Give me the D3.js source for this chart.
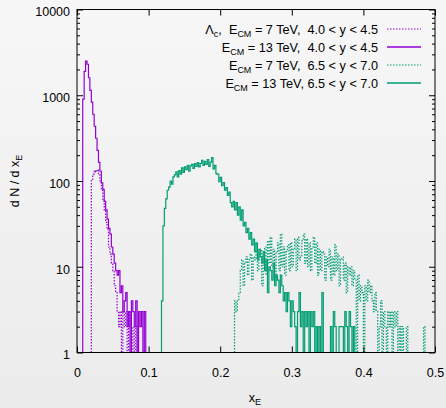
<!DOCTYPE html>
<html>
<head>
<meta charset="utf-8">
<script src="https://cdn.jsdelivr.net/npm/d3@7"></script>
<style>
  body { margin: 0; }
  svg { display: block; font-family: "Liberation Sans", Arial, sans-serif; }
</style>
</head>
<body>
<div id="chart"></div>
<script>
// histogram bin width in x_E
var binWidth = 0.002;

// Lambda_c, E_CM = 7 TeV, 4.0 < y < 4.5 (first bin starts at 0.020)
var e7LowStart = 0.020;
var e7Low = [105, 120, 132, 128, 135, 118, 100, 78, 60, 45, 33, 27, 17, 14, 11, 9, 6, 5, 3, 2,
  3, 1, 3, 2, 3, 1, 2, 3, 1, 2, 1, 2, 1, 0];

// E_CM = 13 TeV, 4.0 < y < 4.5 (first bin starts at 0.008)
var e13LowStart = 0.008;
var e13Low = [900, 1900, 2500, 2300, 1600, 1140, 830, 600, 435, 315, 228, 165, 130, 95, 80, 58, 46, 36, 28, 24,
  17, 14, 11, 9, 8, 9, 5, 6, 3, 4, 5, 2, 3, 1, 4, 3, 2, 4, 1, 3,
  2, 3, 1, 3, 0];

// E_CM = 7 TeV, 6.5 < y < 7.0 (first bin starts at 0.220)
var e7HighStart = 0.220;
var e7High = [4, 3, 4, 5, 9, 12, 6, 11, 13, 8, 12, 14, 7, 13, 12, 15, 9, 14, 16, 6,
  14, 17, 8, 20, 11, 22, 10, 16, 7, 15, 19, 9, 24, 10, 17, 8, 15, 18, 9, 19,
  10, 16, 21, 9, 22, 12, 13, 20, 24, 11, 21, 10, 19, 9, 17, 22, 11, 19, 8, 16,
  9, 15, 14, 7, 13, 10, 16, 7, 13, 8, 18, 9, 14, 6, 12, 13, 7, 11, 5, 10,
  8, 10, 6, 9, 7, 0, 8, 4, 6, 5, 0, 6, 4, 7, 5, 6, 4, 3, 5, 3,
  0, 2, 4, 1, 3, 2, 0, 3, 2, 3, 0, 3, 2, 3, 0, 2, 0, 2, 0, 0,
  2, 0, 0, 0, 0, 0, 0, 0, 0, 0, 0, 0, 2, 0];

// E_CM = 13 TeV, 6.5 < y < 7.0 (first bin starts at 0.118)
var e13HighStart = 0.118;
var e13High = [4, 30, 48, 62, 78, 85, 100, 92, 112, 118, 128, 112, 132, 120, 142, 126, 146, 136, 152, 130,
  150, 156, 140, 160, 148, 164, 146, 160, 174, 152, 170, 156, 178, 148, 166, 188, 138, 152, 122, 120,
  98, 110, 88, 96, 78, 84, 68, 74, 56, 50, 58, 46, 56, 40, 50, 35, 46, 30, 33, 25,
  28, 21, 25, 18, 21, 15, 19, 12, 16, 13, 11, 15, 9, 12, 5, 10, 9, 7, 11, 6,
  8, 7, 5, 8, 6, 4, 5, 3, 5, 4, 2, 4, 3, 2, 1, 3, 5, 2, 3, 1,
  3, 2, 3, 1, 3, 2, 3, 1, 2, 0, 2, 1, 5, 0, 1, 0, 0, 0, 2, 0,
  3, 2, 0, 0, 2, 2, 2, 0, 3, 2, 0, 3, 2, 0, 2, 0];

// axis ticks
var xTicks = [0, 0.1, 0.2, 0.3, 0.4, 0.5];
var yMajor = [1, 10, 100, 1000, 10000];

// legend entries, drawn top to bottom
var legendRows = [
  { pre: "\u039B", preSub: "c", mid: ",  E", sub: "CM", post: " = 7 TeV,  4.0 < y < 4.5", color: "#9400d3", dotted: true },
  { pre: "", preSub: "", mid: "E", sub: "CM", post: " = 13 TeV,  4.0 < y < 4.5", color: "#9400d3", dotted: false },
  { pre: "", preSub: "", mid: "E", sub: "CM", post: " = 7 TeV,  6.5 < y < 7.0", color: "#009e73", dotted: true },
  { pre: "", preSub: "", mid: "E", sub: "CM", post: " = 13 TeV, 6.5 < y < 7.0", color: "#009e73", dotted: false }
];

var svgWidth = 446;
var svgHeight = 408;

var plot = { left: 77, right: 435, top: 9.5, bottom: 352.5 };

var svg = d3.select("#chart")
  .append("svg")
  .attr("width", svgWidth)
  .attr("height", svgHeight);

// page background
var grad = svg.append("defs").append("linearGradient")
  .attr("id", "bg")
  .attr("x1", 0).attr("y1", 0).attr("x2", 0).attr("y2", 1);
grad.append("stop").attr("offset", "0%").attr("stop-color", "#f7f7f7");
grad.append("stop").attr("offset", "100%").attr("stop-color", "#ebebeb");

svg.append("rect")
  .attr("width", svgWidth)
  .attr("height", svgHeight)
  .attr("fill", "url(#bg)");

svg.select("defs").append("clipPath")
  .attr("id", "plotclip")
  .append("rect")
  .attr("x", plot.left)
  .attr("y", plot.top)
  .attr("width", plot.right - plot.left)
  .attr("height", plot.bottom - plot.top + 1);

var xScale = d3.scaleLinear()
  .domain([0, 0.5])
  .range([plot.left, plot.right]);

var yScale = d3.scaleLog()
  .domain([1, 10000])
  .range([plot.bottom, plot.top]);

// minor log ticks 2..9 for every decade
var yMinor = [];
yMajor.slice(0, -1).forEach(function(d) {
  for (var k = 2; k <= 9; k++) yMinor.push(d * k);
});

// histogram as a step line; empty bins fall onto the bottom edge
function stepPoints(start, counts) {
  var pts = [[start, 1]];
  counts.forEach(function(c, i) {
    pts.push([start + i * binWidth, Math.max(c, 1)]);
  });
  var end = start + counts.length * binWidth;
  pts.push([end, Math.max(counts[counts.length - 1], 1)]);
  pts.push([end, 1]);
  return pts;
}

var stepLine = d3.line()
  .x(d => xScale(d[0]))
  .y(d => yScale(d[1]))
  .curve(d3.curveStepAfter);

var series = [
  { start: e7LowStart, counts: e7Low, color: "#9400d3", dotted: true },
  { start: e13LowStart, counts: e13Low, color: "#9400d3", dotted: false },
  { start: e7HighStart, counts: e7High, color: "#009e73", dotted: true },
  { start: e13HighStart, counts: e13High, color: "#009e73", dotted: false }
];

var lines = svg.append("g").attr("clip-path", "url(#plotclip)");

series.forEach(function(s) {
  lines.append("path")
    .attr("d", stepLine(stepPoints(s.start, s.counts)))
    .attr("fill", "none")
    .attr("stroke", s.color)
    .attr("stroke-width", 1.2)
    .attr("stroke-dasharray", s.dotted ? "1.5,1.5" : null);
});

// axes, ticks pointing inwards on all four sides
function styleAxis(g) {
  g.select(".domain").remove();
  g.selectAll("line").attr("stroke", "#000").attr("stroke-width", 1);
  g.selectAll("text")
    .attr("fill", "#000")
    .style("font-size", "12.5px");
}

svg.append("g")
  .attr("transform", `translate(0, ${plot.bottom})`)
  .call(d3.axisBottom(xScale).tickValues(xTicks).tickSize(-6).tickPadding(16)
    .tickFormat(d => d === 0 ? "0" : d3.format(".1f")(d)))
  .call(styleAxis);

svg.append("g")
  .attr("transform", `translate(0, ${plot.top})`)
  .call(d3.axisTop(xScale).tickValues(xTicks).tickSize(-6).tickFormat(""))
  .call(styleAxis);

var yLeft = svg.append("g")
  .attr("transform", `translate(${plot.left}, 0)`)
  .call(d3.axisLeft(yScale).tickValues(yMajor).tickSize(-6).tickPadding(7)
    .tickFormat(d3.format("d")))
  .call(styleAxis);
yLeft.selectAll("text").attr("dy", "0.5em");

svg.append("g")
  .attr("transform", `translate(${plot.left}, 0)`)
  .call(d3.axisLeft(yScale).tickValues(yMinor).tickSize(-3).tickFormat(""))
  .call(styleAxis);

svg.append("g")
  .attr("transform", `translate(${plot.right}, 0)`)
  .call(d3.axisRight(yScale).tickValues(yMajor).tickSize(-6).tickFormat(""))
  .call(styleAxis);

svg.append("g")
  .attr("transform", `translate(${plot.right}, 0)`)
  .call(d3.axisRight(yScale).tickValues(yMinor).tickSize(-3).tickFormat(""))
  .call(styleAxis);

// frame
svg.append("rect")
  .attr("x", plot.left)
  .attr("y", plot.top)
  .attr("width", plot.right - plot.left)
  .attr("height", plot.bottom - plot.top)
  .attr("fill", "none")
  .attr("stroke", "#000")
  .attr("stroke-width", 1);

// axis titles
var xTitle = svg.append("text")
  .attr("x", (plot.left + plot.right) / 2 - 1)
  .attr("y", 402)
  .attr("text-anchor", "middle")
  .style("font-size", "12.5px");
xTitle.append("tspan").text("x");
xTitle.append("tspan").attr("dy", 3).style("font-size", "9px").text("E");

var yTitle = svg.append("text")
  .attr("transform", `translate(19, ${(plot.top + plot.bottom) / 2}) rotate(-90)`)
  .attr("text-anchor", "middle")
  .style("font-size", "12.5px");
yTitle.append("tspan").text("d N / d x");
yTitle.append("tspan").attr("dy", 3).style("font-size", "9px").text("E");

// legend
var legend = svg.append("g");
legendRows.forEach(function(row, i) {
  var cy = 29 + i * 18;
  var t = legend.append("text")
    .attr("x", 378)
    .attr("y", cy + 4.5)
    .attr("text-anchor", "end")
    .attr("xml:space", "preserve")
    .style("white-space", "pre")
    .style("font-size", "12.7px");
  if (row.pre) {
    t.append("tspan").text(row.pre);
    t.append("tspan").attr("dy", 3).style("font-size", "9px").text(row.preSub);
    t.append("tspan").attr("dy", -3).text(row.mid);
  } else {
    t.append("tspan").text(row.mid);
  }
  t.append("tspan").attr("dy", 3).style("font-size", "9px").text(row.sub);
  t.append("tspan").attr("dy", -3).text(row.post);

  legend.append("line")
    .attr("x1", 387)
    .attr("x2", 421)
    .attr("y1", cy)
    .attr("y2", cy)
    .attr("stroke", row.color)
    .attr("stroke-width", row.dotted ? 1.2 : 1.5)
    .attr("stroke-dasharray", row.dotted ? "1.5,1.5" : null);
});
</script>
</body>
</html>
